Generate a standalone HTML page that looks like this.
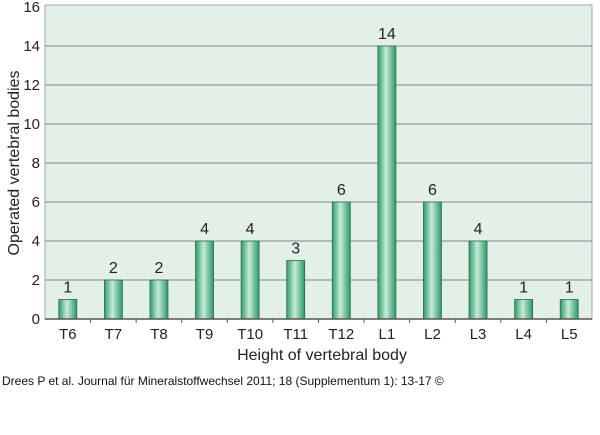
<!DOCTYPE html>
<html><head><meta charset="utf-8"><style>
body{margin:0;background:#fff;font-family:"Liberation Sans",sans-serif;}
</style></head><body>
<svg id="chart" width="600" height="430" xmlns="http://www.w3.org/2000/svg" font-family="Liberation Sans, sans-serif">
<defs>
<linearGradient id="barg" x1="0" x2="1" y1="0" y2="0">
<stop offset="0" stop-color="#2e9e6c"/><stop offset="0.45" stop-color="#c6ebd6"/><stop offset="1" stop-color="#2a9a68"/>
</linearGradient>
</defs>
<rect x="45" y="5" width="547" height="314" fill="#e2f0e8" stroke="#9aa" stroke-width="1"/>
<g id="grid"></g><g id="bars"></g><g id="axes"></g>
<text transform="translate(19,163) rotate(-90)" text-anchor="middle" font-size="16" fill="#222">Operated vertebral bodies</text>
<text x="322" y="360" text-anchor="middle" font-size="16" fill="#222">Height of vertebral body</text>
<text x="2" y="385" font-size="12" fill="#111">Drees P et al. Journal für Mineralstoffwechsel 2011; 18 (Supplementum 1): 13-17 ©</text>
</svg>
<script>
const categories=["T6","T7","T8","T9","T10","T11","T12","L1","L2","L3","L4","L5"];
const values=[1,2,2,4,4,3,6,14,6,4,1,1];
const yTicks=[0,2,4,6,8,10,12,14,16];
const NS="http://www.w3.org/2000/svg";
const L=45,R=592,T=7,B=319,yMax=16;
const y=v=>B-(v/yMax)*(B-T);
const band=(R-L)/categories.length;
const x=i=>L+band*(i+0.5);
function mk(tag,attrs,parent){const e=document.createElementNS(NS,tag);for(const k in attrs)e.setAttribute(k,attrs[k]);parent.appendChild(e);return e;}
const grid=document.getElementById('grid'),bars=document.getElementById('bars'),axes=document.getElementById('axes');
yTicks.forEach(t=>{
  if(t>0&&t<yMax){const g=mk('line',{x1:L,x2:R,y1:y(t),y2:y(t),stroke:'#7f8a84','stroke-width':1},grid);
  
  }
  const tx=mk('text',{x:40,y:y(t)+5,'text-anchor':'end','font-size':15,fill:'#222'},axes);
  tx.textContent=t;
  
  
});
mk('line',{x1:L,x2:R,y1:B,y2:B,stroke:'#555','stroke-width':1.5},axes);
categories.forEach((c,i)=>{
  const bw=18,v=values[i];
  const r=mk('rect',{x:x(i)-bw/2,y:y(v),width:bw,height:B-y(v),fill:'url(#barg)',stroke:'#2d6b50','stroke-width':0.8},bars);
  
  
  const vl=mk('text',{x:x(i),y:y(v)-7,'text-anchor':'middle','font-size':16,fill:'#222'},bars);
  vl.textContent=v;
  
  
  const xl=mk('text',{x:x(i),y:339,'text-anchor':'middle','font-size':15,fill:'#222'},axes);
  xl.textContent=c;
  
  
  if(i>0){const tk=mk('line',{x1:L+band*i,x2:L+band*i,y1:B,y2:B+4,stroke:'#555'},axes);
  
  }
});
</script>
</body></html>
